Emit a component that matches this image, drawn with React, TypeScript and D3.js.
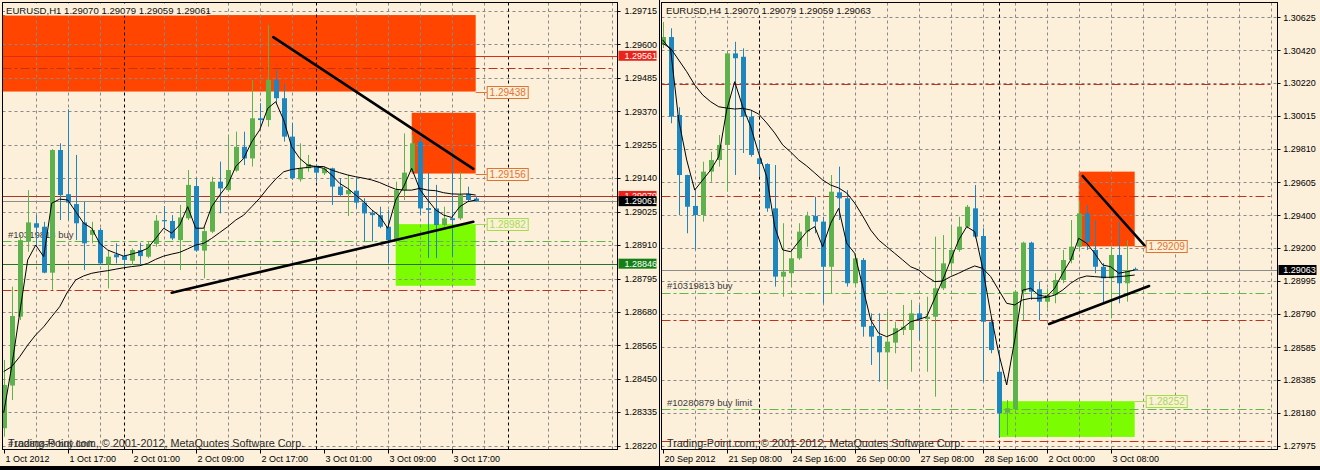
import React from 'react';
import * as d3 from 'd3';

// ---------------- DATA ----------------
// EURUSD H1 (left window), 60 bars, 1 Oct 09:00 .. 3 Oct 20:00
const h1Open = [1.28280,1.28427,1.28664,1.28922,1.28985,1.28973,1.28815,1.29237,1.29085,1.29051,
1.28988,1.28945,1.28962,1.28844,1.28878,1.28872,1.28856,1.28893,1.28870,1.28914,
1.28996,1.28993,1.28927,1.29002,1.29113,1.28891,1.28956,1.29128,1.29099,1.29166,
1.29248,1.29208,1.29346,1.29340,1.29478,1.29415,1.29283,1.29136,1.29174,1.29183,
1.29157,1.29174,1.29111,1.29085,1.29097,1.29056,1.29021,1.29013,1.28973,1.28927,
1.29099,1.29162,1.29266,1.29037,1.29036,1.28979,1.29002,1.29002,1.29086,1.29070];
const h1High = [1.28515,1.28767,1.28945,1.29099,1.29013,1.28990,1.29240,1.29260,1.29377,1.29220,
1.29059,1.28990,1.28969,1.28893,1.28916,1.28886,1.28899,1.28918,1.28922,1.29013,
1.29044,1.29013,1.29048,1.29168,1.29140,1.28973,1.29145,1.29197,1.29289,1.29300,
1.29300,1.29478,1.29398,1.29667,1.29512,1.29466,1.29330,1.29260,1.29220,1.29185,
1.29180,1.29176,1.29140,1.29151,1.29140,1.29071,1.29031,1.29042,1.29031,1.29128,
1.29294,1.29289,1.29282,1.29158,1.29117,1.29042,1.29244,1.29162,1.29111,1.29079];
const h1Low = [1.28251,1.28377,1.28652,1.28887,1.28904,1.28813,1.28756,1.28996,1.28996,1.28927,
1.28824,1.28916,1.28842,1.28761,1.28847,1.28836,1.28842,1.28842,1.28865,1.28904,
1.28968,1.28927,1.28824,1.28996,1.28887,1.28796,1.28951,1.29019,1.29094,1.29162,
1.29185,1.29180,1.29317,1.29317,1.29398,1.29266,1.29134,1.29128,1.29162,1.29128,
1.29151,1.29048,1.29076,1.29010,1.29037,1.28922,1.28922,1.28968,1.28847,1.28916,
1.29065,1.29158,1.29013,1.28866,1.28865,1.28973,1.28870,1.28996,1.29059,1.29059];
const h1Close = [1.28429,1.28666,1.28927,1.28988,1.28970,1.28815,1.29237,1.29082,1.29056,1.28985,
1.28916,1.28962,1.28847,1.28870,1.28868,1.28859,1.28893,1.28872,1.28914,1.28994,
1.28994,1.28933,1.29005,1.29117,1.28891,1.28958,1.29128,1.29105,1.29168,1.29248,
1.29208,1.29346,1.29340,1.29478,1.29415,1.29283,1.29140,1.29174,1.29189,1.29159,
1.29174,1.29111,1.29082,1.29099,1.29056,1.29019,1.29013,1.28973,1.28927,1.29099,
1.29159,1.29260,1.29036,1.29031,1.28979,1.29002,1.28996,1.29082,1.29065,1.29061];
const h1FastMA = [1.28333,1.28492,1.28676,1.28859,1.28910,1.28870,1.29054,1.29068,1.29065,1.29025,
1.28985,1.28968,1.28916,1.28893,1.28882,1.28872,1.28879,1.28887,1.28899,1.28933,
1.28968,1.28951,1.28979,1.29042,1.28968,1.28968,1.29042,1.29082,1.29117,1.29180,
1.29208,1.29265,1.29306,1.29380,1.29403,1.29340,1.29248,1.29208,1.29185,1.29180,
1.29174,1.29151,1.29122,1.29105,1.29082,1.29059,1.29031,1.29010,1.28968,1.29065,
1.29111,1.29174,1.29102,1.29065,1.29031,1.29013,1.29005,1.29042,1.29059,1.29065];
const h1SlowMA = [1.28475,1.28492,1.28526,1.28566,1.28601,1.28629,1.28664,1.28698,1.28750,1.28790,
1.28804,1.28813,1.28818,1.28822,1.28827,1.28832,1.28836,1.28839,1.28847,1.28861,
1.28872,1.28879,1.28885,1.28897,1.28910,1.28916,1.28933,1.28953,1.28973,1.28996,
1.29013,1.29042,1.29071,1.29106,1.29137,1.29162,1.29170,1.29174,1.29177,1.29180,
1.29180,1.29168,1.29159,1.29151,1.29145,1.29140,1.29134,1.29125,1.29113,1.29102,
1.29099,1.29099,1.29105,1.29099,1.29097,1.29090,1.29086,1.29085,1.29086,1.29082];

// EURUSD H4 (right window), 60 bars, 20 Sep 00:00 .. 3 Oct 20:00
const h4Open = [1.30454,1.30503,1.30021,1.29650,1.29459,1.29403,1.29671,1.29743,1.29836,1.30402,
1.30381,1.30011,1.29753,1.29718,1.29444,1.29022,1.29043,1.29135,1.29300,1.29397,
1.29362,1.29083,1.29543,1.29506,1.28981,1.29125,1.28717,1.28655,1.28554,1.28614,
1.28692,1.28692,1.28795,1.28760,1.28774,1.28950,1.29104,1.29187,1.29331,1.29444,
1.29273,1.28743,1.28434,1.28181,1.28202,1.28929,1.29232,1.28944,1.28867,1.28908,
1.29001,1.29125,1.29207,1.29413,1.29187,1.29083,1.29012,1.29156,1.28981,1.29070];
const h4High = [1.30596,1.30557,1.30069,1.29652,1.29557,1.29732,1.29794,1.29897,1.30404,1.30474,
1.30433,1.30052,1.29867,1.29723,1.29712,1.29352,1.29187,1.29352,1.29423,1.29516,
1.29392,1.29650,1.29702,1.29557,1.29166,1.29137,1.28795,1.28795,1.28805,1.28743,
1.28847,1.28878,1.28847,1.28898,1.29269,1.29279,1.29331,1.29392,1.29465,1.29588,
1.29321,1.28764,1.28568,1.28259,1.28939,1.29238,1.29238,1.28991,1.28950,1.29043,
1.29187,1.29372,1.29485,1.29465,1.29372,1.29106,1.29207,1.29362,1.29248,1.29079];
const h4Low = [1.30435,1.29970,1.29403,1.29290,1.29187,1.29362,1.29609,1.29702,1.29547,1.29650,
1.29786,1.29763,1.29640,1.29423,1.28960,1.28898,1.28960,1.29125,1.29207,1.29290,
1.28857,1.28919,1.29372,1.28960,1.28960,1.28651,1.28476,1.28372,1.28342,1.28548,
1.28661,1.28434,1.28630,1.28434,1.28280,1.28939,1.29043,1.29176,1.29321,1.29259,
1.28372,1.28548,1.28032,1.28043,1.28197,1.28754,1.28878,1.28754,1.28826,1.28857,
1.28981,1.29104,1.29187,1.29187,1.29043,1.28857,1.28764,1.28857,1.28867,1.29059];
const h4Close = [1.30503,1.30011,1.29650,1.29454,1.29403,1.29671,1.29743,1.29836,1.30402,1.30372,
1.30011,1.29774,1.29718,1.29444,1.29022,1.29052,1.29135,1.29300,1.29397,1.29362,
1.29083,1.29547,1.29506,1.28981,1.29135,1.28712,1.28651,1.28554,1.28620,1.28703,
1.28712,1.28795,1.28758,1.28774,1.28950,1.29104,1.29187,1.29331,1.29454,1.29269,
1.28743,1.28568,1.28177,1.28208,1.28929,1.29232,1.28929,1.28867,1.28908,1.29001,
1.29125,1.29207,1.29413,1.29238,1.29083,1.29012,1.29156,1.28981,1.29063,1.29063];
const h4FastMA = [1.30485,1.30423,1.29990,1.29743,1.29557,1.29619,1.29681,1.29763,1.30052,1.30227,
1.30072,1.29949,1.29784,1.29640,1.29331,1.29187,1.29176,1.29238,1.29300,1.29331,
1.29207,1.29352,1.29444,1.29228,1.29166,1.28960,1.28754,1.28672,1.28651,1.28672,
1.28703,1.28743,1.28758,1.28774,1.28888,1.29001,1.29125,1.29248,1.29331,1.29300,
1.29073,1.28795,1.28548,1.28352,1.28630,1.28939,1.28950,1.28908,1.28898,1.28950,
1.29043,1.29125,1.29259,1.29228,1.29166,1.29094,1.29083,1.29043,1.29052,1.29063];
const h4SlowMA = [1.30464,1.30433,1.30361,1.30289,1.30207,1.30145,1.30103,1.30072,1.30064,1.30058,
1.30062,1.30052,1.30027,1.29972,1.29910,1.29836,1.29792,1.29743,1.29706,1.29663,
1.29619,1.29588,1.29570,1.29539,1.29477,1.29397,1.29310,1.29248,1.29207,1.29166,
1.29125,1.29083,1.29063,1.29022,1.28991,1.28995,1.29022,1.29043,1.29067,1.29088,
1.29073,1.29022,1.28939,1.28857,1.28847,1.28878,1.28888,1.28888,1.28894,1.28908,
1.28939,1.28981,1.29012,1.29026,1.29022,1.29018,1.29018,1.29022,1.29026,1.29032];

const h1PriceTicks = [1.29715,1.29600,1.29485,1.29370,1.29255,1.29140,1.29025,1.28910,1.28795,1.28680,1.28565,1.28450,1.28335,1.28220];
const h4PriceTicks = [1.30625,1.30420,1.30220,1.30015,1.29810,1.29605,1.29400,1.29200,1.28995,1.28790,1.28585,1.28385,1.28180,1.27975];
const h1TimeLabels = ['1 Oct 2012','1 Oct 17:00','2 Oct 01:00','2 Oct 09:00','2 Oct 17:00','3 Oct 01:00','3 Oct 09:00','3 Oct 17:00'];
const h4TimeLabels = ['20 Sep 2012','21 Sep 08:00','24 Sep 16:00','26 Sep 00:00','27 Sep 08:00','28 Sep 16:00','2 Oct 00:00','3 Oct 08:00'];
const timeLabelStep = 8;
const h1Separators = [15, 39, 63];
const h4Separators = [12, 42];

// levels shared by both windows
const stopLevels = [1.30213, 1.29520, 1.28754, 1.28006];
const orderLevels = [1.28923, 1.28202];
const orderNames = ['#10319813 buy', '#10280879 buy limit'];

// zones: [fromBar, toBar, top, bottom]
const h1SellZones = [[-2, 59, 1.29701, 1.29438], [51, 59, 1.29365, 1.29156]];
const h1BuyZones = [[49, 59, 1.28982, 1.28770]];
const h4SellZones = [[52, 59, 1.29671, 1.29209]];
const h4BuyZones = [[42, 59, 1.28252, 1.28031]];

// trendlines: [bar1, price1, bar2, price2]
const h1Trends = [[33.7, 1.29625, 58.7, 1.29172], [21, 1.28746, 58.7, 1.28990]];
const h4Trends = [[52.5, 1.29644, 60.3, 1.29211], [48.3, 1.28729, 60.8, 1.28964]];

// horizontal price lines with axis tags
const h1TagPrices = [1.29561, 1.29079, 1.29061, 1.28846];
const h1TagKinds = ['red', 'red2', 'bid', 'green'];
const h4TagPrices = [1.29063];
const h4TagKinds = ['bid'];

const h1Header = 'EURUSD,H1  1.29070 1.29079 1.29059 1.29061';
const h4Header = 'EURUSD,H4  1.29070 1.29079 1.29059 1.29063';
const copyright = 'Trading-Point.com, \u00a9 2001-2012, MetaQuotes Software Corp.';

// ---------------- STYLE ----------------
const BG = '#fdf0da';
const BULL = '#5db24d';
const BEAR = '#1d86bf';
const GRID = '#8a8a8a';
const ORANGE = '#ff4500';
const LIME = '#7cfc00';
const STOP = '#c0321e';
const ORDER = '#5fb84a';
const FONT = "'Liberation Sans', Arial, sans-serif";

const tagStyle: Record<string, { fill: string; line: string }> = {
  red: { fill: '#e8231b', line: '#e02a1c' },
  red2: { fill: '#e8231b', line: '#a8382c' },
  bid: { fill: '#000000', line: '#8c8c8c' },
  green: { fill: '#157f15', line: '#2a6f2a' },
};

type Cfg = {
  id: string;
  left: number; right: number; top: number; bottom: number;
  firstX: number; tickTopY: number; tickBottomY: number; labelX: number;
  headerX: number; orderTextX: number;
};

function Chart(p: {
  cfg: Cfg; open: number[]; high: number[]; low: number[]; close: number[];
  fast: number[]; slow: number[]; ticks: number[]; times: string[]; seps: number[];
  sell: number[][]; buy: number[][]; trends: number[][]; tagPrices: number[]; tagKinds: string[];
  header: string; labelSell: number[]; labelBuy: number[];
}) {
  const c = p.cfg;
  const x = d3.scaleLinear().domain([0, 60]).range([c.firstX, c.firstX + 480]);
  const y = d3.scaleLinear()
    .domain([p.ticks[p.ticks.length - 1], p.ticks[0]])
    .range([c.tickBottomY, c.tickTopY]);
  const clip = `clip-${c.id}`;
  const gridIdx = d3.range(4, 77, 4).filter((i) => !p.seps.includes(i - 1));
  const line = d3.line<number>().x((_, i) => x(i)).y((v) => y(v));
  const W = c.right - c.left;
  const H = c.bottom - c.top;

  const zoneLabel = (price: number, right: number, color: string, key: string) => {
    const yy = Math.round(y(price)) + 0.5;
    return (
      <g key={key}>
        <line x1={right} x2={right + 11} y1={yy} y2={yy} stroke={color} strokeWidth={1} />
        <rect x={right + 11.5} y={yy - 6} width={41} height={12} fill={BG} stroke={color} strokeWidth={1} />
        <text x={right + 32} y={yy + 3.5} textAnchor="middle" fontSize={10} fill={color}>{price.toFixed(5)}</text>
      </g>
    );
  };

  return (
    <g fontFamily={FONT}>
      <defs>
        <clipPath id={clip}>
          <rect x={c.left} y={c.top} width={W} height={H} />
        </clipPath>
      </defs>
      <g clipPath={`url(#${clip})`}>
        {p.sell.map((z, k) => (
          <rect key={'s' + k} x={x(z[0])} y={y(z[2])} width={x(z[1]) - x(z[0])} height={y(z[3]) - y(z[2])} fill={ORANGE} />
        ))}
        {p.buy.map((z, k) => (
          <rect key={'b' + k} x={x(z[0])} y={y(z[2])} width={x(z[1]) - x(z[0])} height={y(z[3]) - y(z[2])} fill={LIME} />
        ))}
        {p.ticks.map((t) => (
          <line key={'gh' + t} x1={c.left} x2={c.right} y1={Math.round(y(t)) + 0.5} y2={Math.round(y(t)) + 0.5}
            stroke={GRID} strokeDasharray="3,3" strokeWidth={1} />
        ))}
        {gridIdx.map((i) => (
          <line key={'gv' + i} x1={Math.round(x(i)) + 0.5} x2={Math.round(x(i)) + 0.5} y1={c.top} y2={c.bottom}
            stroke={GRID} strokeDasharray="3,3" strokeWidth={1} />
        ))}
        {p.seps.map((i) => (
          <line key={'sep' + i} x1={Math.round(x(i)) + 0.5} x2={Math.round(x(i)) + 0.5} y1={c.top} y2={c.bottom}
            stroke="#000" strokeDasharray="3,3" strokeWidth={1} />
        ))}
        {stopLevels.map((v) => (
          <line key={'st' + v} x1={c.left} x2={c.right - 5} y1={Math.round(y(v)) + 0.5} y2={Math.round(y(v)) + 0.5}
            stroke={STOP} strokeDasharray="9,3,3,3" strokeWidth={1} />
        ))}
        {orderLevels.map((v) => (
          <line key={'or' + v} x1={c.left} x2={c.right - 5} y1={Math.round(y(v)) + 0.5} y2={Math.round(y(v)) + 0.5}
            stroke={ORDER} strokeDasharray="9,3,3,3" strokeWidth={1} />
        ))}
        {p.tagPrices.map((v, k) => (
          <line key={'tl' + k} x1={c.left} x2={c.right} y1={Math.round(y(v)) + 0.5} y2={Math.round(y(v)) + 0.5}
            stroke={tagStyle[p.tagKinds[k]].line} strokeWidth={1} />
        ))}
      </g>
      {orderLevels.map((v, k) => (
        <text key={'ot' + k} x={c.orderTextX} y={Math.min(y(v) - 3.5, c.bottom - 2)} fontSize={9.5} fill="#3a3a3a">{orderNames[k]}</text>
      ))}
      <g clipPath={`url(#${clip})`}>
        {p.open.map((o, i) => {
          const cl = p.close[i];
          const up = cl > o;
          const col = up ? BULL : BEAR;
          const cx = Math.round(x(i));
          const top = y(Math.max(o, cl));
          const bot = y(Math.min(o, cl));
          return (
            <g key={'c' + i}>
              <line x1={cx + 0.5} x2={cx + 0.5} y1={y(p.high[i])} y2={y(p.low[i])} stroke={col} strokeWidth={1} />
              <rect x={cx - 2} y={top} width={5} height={Math.max(1.2, bot - top)} fill={col} />
            </g>
          );
        })}
        <path d={line(p.slow) || ''} fill="none" stroke="#000" strokeWidth={1} />
        <path d={line(p.fast) || ''} fill="none" stroke="#000" strokeWidth={1} />
        {p.trends.map((t, k) => (
          <line key={'tr' + k} x1={x(t[0])} y1={y(t[1])} x2={x(t[2])} y2={y(t[3])} stroke="#000" strokeWidth={2.6} strokeLinecap="round" />
        ))}
      </g>
      {p.sell.map((z, k) => zoneLabel(p.labelSell[k], x(z[1]), '#e2722f', 'zs' + k))}
      {p.buy.map((z, k) => zoneLabel(p.labelBuy[k], x(z[1]), '#a4dc4c', 'zb' + k))}
      <rect x={c.headerX - 1} y={c.top + 1} width={202} height={12} fill={BG} />
      <text x={c.headerX} y={c.top + 11} fontSize={9.6} fill="#111">{p.header}</text>
      <text x={c.orderTextX} y={c.bottom - 2.5} fontSize={10.8} fill="#2a2a2a">{copyright}</text>
      <rect x={c.left} y={c.top} width={W} height={H} fill="none" stroke="#000" strokeWidth={1} />
      {p.ticks.map((t) => (
        <g key={'yt' + t}>
          <line x1={c.right} x2={c.right + 3} y1={Math.round(y(t)) + 0.5} y2={Math.round(y(t)) + 0.5} stroke="#000" />
          <text x={c.labelX} y={y(t) + 3.2} fontSize={9} fill="#000">{t.toFixed(5)}</text>
        </g>
      ))}
      {p.tagPrices.map((v, k) => (
        <g key={'tg' + k}>
          <rect x={c.right + 1} y={y(v) - 5} width={38} height={10} fill={tagStyle[p.tagKinds[k]].fill} />
          <text x={c.labelX} y={y(v) + 3.2} fontSize={9} fill="#fff">{v.toFixed(5)}</text>
        </g>
      ))}
      {p.times.map((s, k) => {
        const xi = Math.round(x(k * timeLabelStep)) + 0.5;
        return (
          <g key={'xt' + k}>
            <line x1={xi} x2={xi} y1={c.bottom} y2={c.bottom + 4} stroke="#000" />
            <text x={xi + 1} y={c.bottom + 12.5} fontSize={9} fill="#000">{s}</text>
          </g>
        );
      })}
    </g>
  );
}

const leftCfg: Cfg = { id: 'h1', left: 2.5, right: 617.5, top: 2.5, bottom: 449.5, firstX: 3.7,
  tickTopY: 11, tickBottomY: 445.7, labelX: 624.5, headerX: 6, orderTextX: 8 };
const rightCfg: Cfg = { id: 'h4', left: 661.5, right: 1277.5, top: 2.5, bottom: 449.5, firstX: 662.7,
  tickTopY: 17.3, tickBottomY: 446, labelX: 1283.3, headerX: 666, orderTextX: 667 };

export default function App() {
  return (
    <svg width={1320} height={470} style={{ position: 'absolute', left: 0, top: 0, display: 'block' }}>
      <rect x={0} y={0} width={1320} height={470} fill="#000" />
      <rect x={0} y={0} width={659} height={466} fill={BG} />
      <rect x={660} y={0} width={660} height={466} fill={BG} />
      <Chart cfg={leftCfg} open={h1Open} high={h1High} low={h1Low} close={h1Close}
        fast={h1FastMA} slow={h1SlowMA} ticks={h1PriceTicks} times={h1TimeLabels} seps={h1Separators}
        sell={h1SellZones} buy={h1BuyZones} trends={h1Trends} tagPrices={h1TagPrices} tagKinds={h1TagKinds}
        header={h1Header} labelSell={[1.29438, 1.29156]} labelBuy={[1.28982]} />
      <Chart cfg={rightCfg} open={h4Open} high={h4High} low={h4Low} close={h4Close}
        fast={h4FastMA} slow={h4SlowMA} ticks={h4PriceTicks} times={h4TimeLabels} seps={h4Separators}
        sell={h4SellZones} buy={h4BuyZones} trends={h4Trends} tagPrices={h4TagPrices} tagKinds={h4TagKinds}
        header={h4Header} labelSell={[1.29209]} labelBuy={[1.28252]} />
    </svg>
  );
}
